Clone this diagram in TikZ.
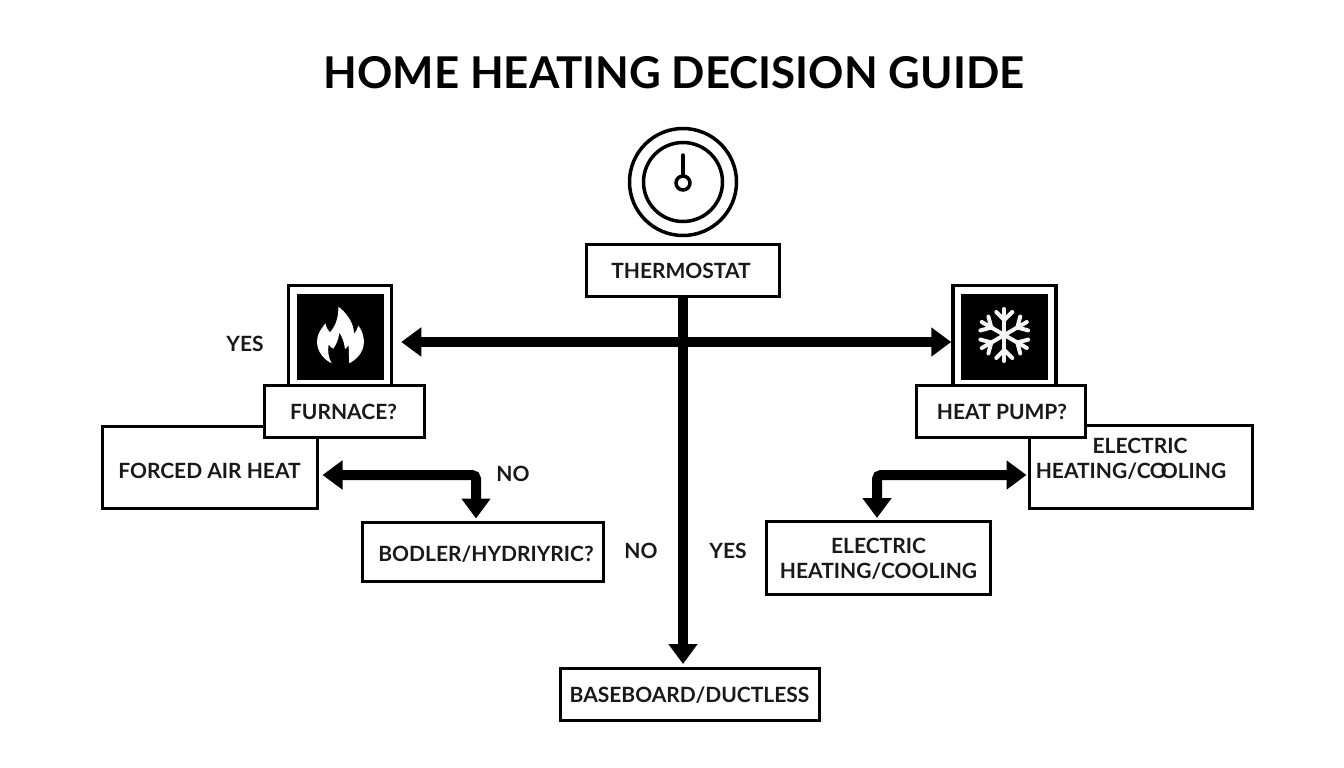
\documentclass[tikz,border=0pt]{standalone}
\usepackage{fontspec}
\setmainfont{Lato}
\usetikzlibrary{arrows.meta}
\tikzset{
  boxnode/.style={draw=black,fill=white,line width=3pt,inner sep=0pt,align=center,font=\lblfont,text=black!90},
  lbl/.style={inner sep=0pt,align=center,font=\lblfont,text=black!90},
  bigarrow/.style={line width=10pt,-{Triangle[length=20pt,width=28pt]},rounded corners=4pt},
  dblarrow/.style={line width=10pt,{Triangle[length=20pt,width=28pt]}-{Triangle[length=20pt,width=28pt]},rounded corners=4pt},
  framebox/.style={draw=black,fill=white,line width=3.5pt,inner sep=0pt},
  blacksq/.style={fill=black,draw=none,inner sep=0pt},
  dial/.style={draw=black,line width=3.5pt,fill=white,circle,inner sep=0pt},
  flake/.style={draw=white!96!black,line width=4pt,line cap=round,line join=round}
}
\newcommand{\lblfont}{\fontsize{21}{25}\bfseries\selectfont}
\begin{document}
\begin{tikzpicture}[x=1pt,y=-1pt]
\useasboundingbox (0,0) rectangle (1344,768);
\fill[white] (0,0) rectangle (1344,768);

\node[inner sep=0pt,font=\fontsize{43.8}{52}\bfseries\selectfont] (title) at (674,73) {HOME HEATING DECISION GUIDE};

% thermostat dial
\node[dial,minimum size=107pt] (dialouter) at (683,182) {};
\node[dial,minimum size=79pt] (dialinner) at (683,182) {};
\node[dial,minimum size=14pt] (dialhub) at (683,183) {};
\coordinate (needle) at (683,155);
\draw[line width=3.5pt,line cap=round] (dialhub.north) -- (needle);

\node[boxnode,minimum width=192.5pt,minimum height=52pt] (therm) at (683,270) {};
\node[lbl] (thermtxt) at (681,271) {THERMOSTAT};

% lower boxes drawn first
\node[boxnode,minimum width=215pt,minimum height=82pt] (forced) at (210,467.5) {};
\node[lbl] (forcedtxt) at (209.5,470.5) {FORCED AIR HEAT};
\node[boxnode,minimum width=223pt,minimum height=83pt] (elecr) at (1140.5,466.5) {};
\node[lbl] (elecrtop) at (1140,446) {ELECTRIC};
\node[lbl] (elecrbot) at (1131,471) {HEATING/C\kern-1pt O\kern-6pt OLING};

% furnace
\node[framebox,minimum width=103pt,minimum height=101pt] (fframe) at (340,336) {};
\node[blacksq,minimum width=87pt,minimum height=86pt] (fsq) at (340,336.5) {};
\begin{scope}[shift={(280,280)},x=0.3333pt,y=-0.3333pt]
\fill[white] (155,250) .. controls (125,235) and (105,205) .. (113,170)
  .. controls (116,155) and (128,142) .. (136,130)
  .. controls (139,142) and (143,150) .. (150,157)
  .. controls (170,135) and (176,105) .. (175,80)
  .. controls (195,95) and (222,125) .. (222,162)
  .. controls (228,155) and (232,147) .. (235,137)
  .. controls (250,155) and (256,185) .. (248,207)
  .. controls (240,228) and (226,240) .. (208,250)
  .. controls (206,232) and (208,210) .. (205,195)
  .. controls (204,198) and (200,204) .. (195,207)
  .. controls (193,190) and (188,172) .. (178,158)
  .. controls (176,178) and (168,195) .. (160,206)
  .. controls (155,204) and (150,200) .. (146,193)
  .. controls (142,215) and (146,235) .. (155,250) -- cycle;
\end{scope}
\node[boxnode,minimum width=160pt,minimum height=52pt] (furn) at (344,411) {};
\node[lbl] (furntxt) at (343.5,412) {FURNACE?};

% heat pump
\node[framebox,minimum width=103pt,minimum height=101pt] (hframe) at (1004.5,336) {};
\node[blacksq,minimum width=87pt,minimum height=86pt] (hsq) at (1004.5,336.5) {};
\foreach \a in {90,150,210,270,330,30}{
  \begin{scope}[shift={(1004.3,335)},rotate=\a]
    \draw[flake] (0,0) -- (26,0);
    \draw[flake] (15,0) -- (23,-8);
    \draw[flake] (15,0) -- (23,8);
  \end{scope}
}
\node[boxnode,minimum width=169pt,minimum height=52pt] (heat) at (1001,411) {};
\node[lbl] (heattxt) at (1002,411.5) {HEAT PUMP?};

% other boxes
\node[boxnode,minimum width=241pt,minimum height=59pt] (boil) at (483,551.5) {};
\node[lbl] (boiltxt) at (486,554) {BODLER/HYDRIYRIC?};
\node[boxnode,minimum width=224pt,minimum height=73pt] (elecl) at (878.5,558) {};
\node[lbl] (elecltxt) at (878.5,559) {ELECTRIC\\HEATING/COOLING};
\node[boxnode,minimum width=259pt,minimum height=52pt] (base) at (690,694.5) {};
\node[lbl] (basetxt) at (689.5,695) {BASEBOARD/DUCTLESS};

% labels
\node[lbl] (yesl) at (245,344) {YES};
\node[lbl] (nol) at (513,474) {NO};
\node[lbl] (nom) at (641,551) {NO};
\node[lbl] (yesm) at (728,551) {YES};

% connectors
\coordinate (jn) at (therm.south |- 0,342);
\coordinate (lcorner) at (476,475);
\coordinate (rcorner) at (877,475);
\draw[bigarrow,shorten >=3pt] (therm.south) -- (therm.south |- base.north);
\draw[dblarrow,shorten <=8pt,shorten >=0pt] (fframe.east |- jn) -- (hframe.west |- jn);
\draw[dblarrow,shorten <=3.5pt,shorten >=2pt] (forced.east |- lcorner) -- (lcorner) -- (lcorner |- boil.north);
\draw[dblarrow,shorten <=1pt,shorten >=2pt] (elecr.west |- rcorner) -- (rcorner) -- (rcorner |- elecl.north);
\end{tikzpicture}
\end{document}
